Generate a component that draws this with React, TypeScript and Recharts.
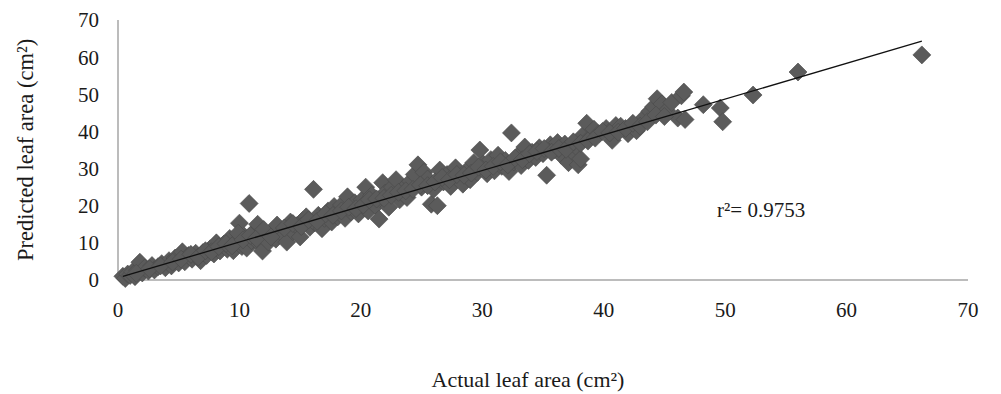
import React from 'react';
import { ScatterChart, Scatter, XAxis, YAxis } from 'recharts';

// tick labels
const xTicks = [0, 10, 20, 30, 40, 50, 60, 70];
const yTicks = [0, 10, 20, 30, 40, 50, 60, 70];

// [actual, predicted] pairs, split by range
const band0to10: [number, number][] = [
  [0.4, 1.0], [0.6, 0.4], [0.8, 1.6], [1.0, 1.2], [1.2, 2.2], [1.4, 0.9], [1.6, 2.6], [1.8, 4.8],
  [2.0, 1.9], [2.2, 3.2], [2.5, 2.4], [2.8, 3.9], [3.0, 2.7], [3.3, 3.6], [3.6, 4.4], [3.9, 3.3],
  [4.2, 5.2], [4.4, 3.8], [4.7, 5.9], [5.0, 4.6], [5.3, 7.6], [5.5, 4.9], [5.8, 6.6], [6.1, 5.6],
  [6.4, 7.2], [6.8, 5.2], [7.0, 7.4], [7.3, 6.6], [7.6, 8.4], [7.9, 7.0], [8.1, 10.0], [8.4, 7.8],
  [8.7, 9.6], [9.0, 8.3], [9.2, 11.2], [9.5, 7.9], [9.8, 10.4], [10.0, 15.3],
];

const band10to20: [number, number][] = [
  [10.2, 9.0], [10.4, 11.8], [10.6, 8.6], [10.8, 20.6], [11.0, 10.6], [11.2, 13.0], [11.5, 15.0],
  [11.7, 9.6], [11.9, 7.8], [12.1, 11.4], [12.4, 10.2], [12.7, 12.8], [13.0, 11.0], [13.3, 13.6],
  [13.6, 12.2], [13.9, 10.2], [14.2, 15.6], [14.4, 13.0], [14.7, 14.6], [15.0, 11.6], [15.2, 16.0],
  [15.5, 17.0], [15.8, 14.2], [16.1, 24.4], [16.2, 15.4], [16.5, 17.4], [16.8, 13.8], [17.0, 16.6],
  [17.3, 18.6], [17.6, 15.6], [17.8, 19.8], [18.1, 17.0], [18.4, 20.2], [18.7, 16.6], [18.9, 22.4],
  [19.2, 18.4], [19.5, 20.8], [19.8, 17.8],
];

const band20to30: [number, number][] = [
  [20.1, 21.6], [20.4, 25.0], [20.6, 18.6], [20.9, 22.8], [21.2, 20.0], [21.5, 16.4], [21.8, 26.2],
  [22.0, 23.4], [22.3, 19.6], [22.6, 25.0], [22.9, 27.0], [23.2, 21.6], [23.5, 24.6], [23.8, 22.2],
  [24.1, 26.6], [24.4, 28.4], [24.7, 31.0], [25.0, 25.0], [25.2, 29.0], [25.5, 27.2], [25.8, 20.4],
  [26.0, 24.4], [26.3, 20.0], [26.5, 29.6], [26.8, 26.4], [27.1, 28.4], [27.4, 25.2], [27.8, 30.2],
  [28.1, 27.6], [28.4, 25.8], [28.7, 29.4], [29.0, 27.0], [29.3, 31.6], [29.6, 29.0], [29.8, 35.0],
];

const band30to40: [number, number][] = [
  [30.1, 31.2], [30.4, 28.6], [30.7, 32.4], [31.0, 29.4], [31.3, 33.6], [31.6, 30.6], [31.9, 32.2],
  [32.2, 29.2], [32.4, 39.6], [32.6, 31.8], [32.9, 33.4], [33.2, 30.8], [33.5, 35.8], [33.8, 32.2],
  [34.1, 34.4], [34.4, 33.0], [34.7, 35.6], [35.0, 34.0], [35.3, 28.2], [35.6, 36.4], [35.9, 35.0],
  [36.2, 37.0], [36.5, 33.6], [36.8, 36.6], [37.1, 31.6], [37.4, 34.6], [37.7, 36.0], [37.9, 31.0],
  [38.1, 32.6], [38.3, 39.0], [38.6, 42.2], [38.9, 38.4], [39.2, 40.6], [39.6, 39.4],
];

const band40plus: [number, number][] = [
  [40.2, 40.8], [40.7, 37.6], [41.0, 41.6], [41.4, 41.4], [42.0, 39.4], [42.7, 40.2], [43.3, 43.6],
  [43.8, 45.4], [44.1, 46.6], [44.4, 48.8], [44.8, 47.4], [45.2, 45.6], [45.6, 47.8], [46.1, 43.6],
  [46.4, 49.6], [46.6, 50.6], [46.7, 43.2], [48.2, 47.2], [49.6, 46.3], [49.8, 42.6], [52.3, 49.8],
  [56.0, 56.0], [66.2, 60.6],
];

// points hidden inside the dense middle of the band
const bandCore: [number, number][] = [
  [1.5, 1.8], [2.6, 3.0], [3.5, 3.8], [4.5, 4.8], [5.2, 5.6], [6.0, 6.9], [6.6, 6.2], [7.2, 7.9],
  [7.7, 7.6], [8.3, 9.0], [8.9, 9.8], [9.4, 9.2], [9.9, 12.6], [10.3, 10.8], [10.9, 12.0], [11.4, 11.2],
  [12.0, 13.6], [12.6, 11.6], [13.1, 14.8], [13.7, 14.0], [14.4, 15.2], [15.1, 14.4], [15.7, 16.2],
  [16.4, 15.8], [17.1, 17.8], [17.7, 17.4], [18.4, 18.6], [19.0, 19.6], [19.6, 19.2], [20.2, 20.2],
  [20.7, 21.6], [21.3, 21.8], [21.9, 22.0], [22.5, 22.8], [23.1, 23.6], [23.7, 24.0], [24.3, 24.4],
  [24.9, 25.6], [25.5, 25.4], [26.1, 26.4], [26.7, 27.6], [27.3, 27.0], [27.9, 28.4], [28.5, 28.2],
  [29.1, 28.8], [29.7, 30.4], [30.3, 29.6], [30.9, 30.6], [31.5, 31.8], [32.1, 31.0], [32.7, 32.8],
  [33.3, 32.4], [33.9, 34.0], [34.5, 34.6], [35.1, 35.4], [35.7, 34.4], [36.3, 35.4], [36.9, 35.2],
  [37.5, 37.2], [38.1, 36.8], [38.7, 37.4], [39.3, 38.2], [39.9, 40.0], [40.5, 39.6], [41.2, 39.8],
  [41.8, 40.8], [42.4, 42.2], [43.0, 41.4], [43.6, 42.6], [44.3, 44.4], [45.0, 44.0],
];

// trend line
const trendSlope = 0.962;
const trendIntercept = 0.6;

const points = [...band0to10, ...band10to20, ...band20to30, ...band30to40, ...band40plus, ...bandCore].map(
  ([x, y]) => ({ x, y })
);

const xs = points.map((p) => p.x);
const minX = Math.min(...xs);
const maxX = Math.max(...xs);
const trend = [
  { x: minX, y: trendIntercept + trendSlope * minX },
  { x: maxX, y: trendIntercept + trendSlope * maxX },
];

const Diamond = (props: any) => {
  const { cx, cy } = props;
  const r = 9;
  return (
    <path
      d={`M${cx},${cy - r}L${cx + r},${cy}L${cx},${cy + r}L${cx - r},${cy}Z`}
      fill="#5b5b5b"
      stroke="#4a4a4a"
      strokeWidth={0.6}
    />
  );
};

const serif = 'Liberation Serif';

const XTick = (props: any) => (
  <text x={props.x} y={props.y} dy="0.71em" textAnchor="middle" fill="#1a1a1a" fontSize={21} fontFamily={serif}>
    {props.payload.value}
  </text>
);

const YTick = (props: any) => (
  <text x={props.x} y={props.y} dy="0.355em" textAnchor="end" fill="#1a1a1a" fontSize={21} fontFamily={serif}>
    {props.payload.value}
  </text>
);

export default function App() {
  return (
    <div style={{ position: 'absolute', left: 0, top: 0, width: 1001, height: 394, background: '#fff', fontFamily: serif }}>
      <ScatterChart width={1001} height={394} margin={{ top: 20, right: 33, left: 0, bottom: 0 }}>
        <XAxis
          type="number"
          dataKey="x"
          domain={[0, 70]}
          ticks={xTicks}
          height={114}
          axisLine={{ stroke: '#a6a6a6', strokeWidth: 1.5 }}
          tickLine={false}
          tickSize={0}
          tickMargin={22}
          tick={<XTick />}
          label={{
            value: 'Actual leaf area (cm²)',
            position: 'insideBottom',
            offset: 7,
            dx: -15,
            fontSize: 22,
            fill: '#1a1a1a',
            fontFamily: serif,
          }}
        />
        <YAxis
          type="number"
          dataKey="y"
          domain={[0, 70]}
          ticks={yTicks}
          width={118}
          axisLine={{ stroke: '#a6a6a6', strokeWidth: 1.5 }}
          tickLine={false}
          tickSize={0}
          tickMargin={19}
          tick={<YTick />}
          label={{
            value: 'Predicted leaf area (cm²)',
            angle: -90,
            position: 'insideLeft',
            offset: 25,
            fontSize: 22.5,
            fill: '#1a1a1a',
            fontFamily: serif,
            style: { textAnchor: 'middle' },
          }}
        />
        <Scatter data={points} shape={<Diamond />} isAnimationActive={false} />
        <Scatter
          data={trend}
          line={{ stroke: '#111', strokeWidth: 1.3 }}
          shape={() => <g />}
          isAnimationActive={false}
        />
      </ScatterChart>
      <div style={{ position: 'absolute', left: 717, top: 197, fontSize: 21, color: '#1a1a1a', lineHeight: '26px' }}>
        r²= 0.9753
      </div>
    </div>
  );
}
